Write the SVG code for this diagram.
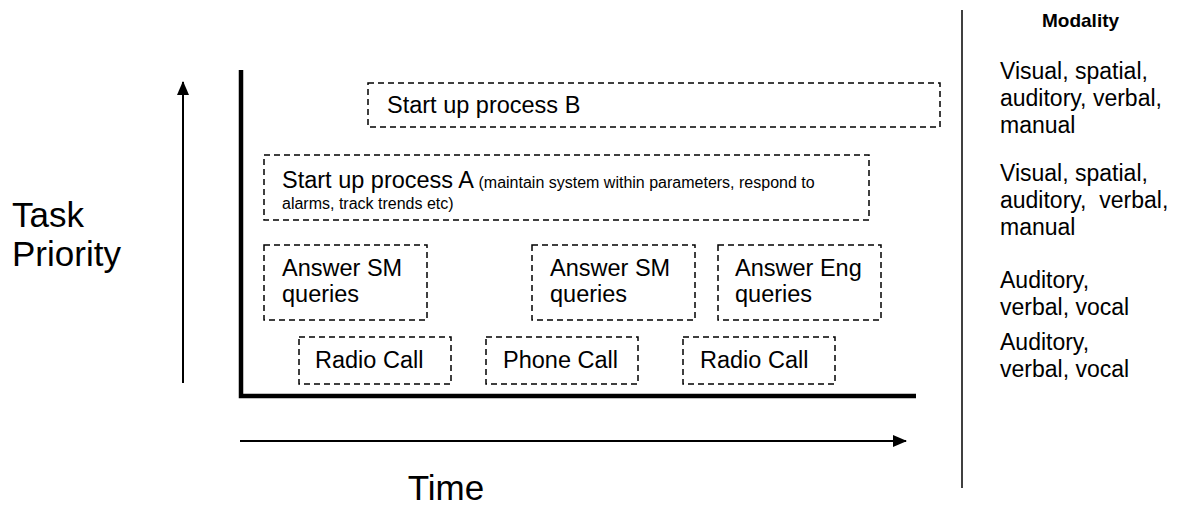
<svg xmlns="http://www.w3.org/2000/svg" width="1183" height="509" viewBox="0 0 1183 509">
<style>
text{font-family:"Liberation Sans",Arial,sans-serif;fill:#000}
.box{fill:none;stroke:#000;stroke-width:1.5;stroke-dasharray:6 4}
.lbl{font-size:23.5px}
.sm{font-size:16px}
.mod{font-size:23px}
.big{font-size:35px}
</style>
<defs>
<marker id="ah2" markerWidth="14" markerHeight="12" refX="13" refY="6" orient="auto" markerUnits="userSpaceOnUse">
<path d="M0,0 L14,6 L0,12 z" fill="#000"/>
</marker>
</defs>
<g id="connectors">
<line x1="183" y1="383" x2="183" y2="82" stroke="#000" stroke-width="2" marker-end="url(#ah2)"/>
<line x1="240" y1="441" x2="906" y2="441" stroke="#000" stroke-width="2" marker-end="url(#ah2)"/>
<polyline points="241,70 241,396 916,396" fill="none" stroke="#000" stroke-width="4.5"/>
<line x1="962" y1="10" x2="962" y2="488" stroke="#000" stroke-width="1.5"/>
</g>
<g id="axis-labels">
<text class="big" x="12" y="227">Task</text>
<text class="big" x="12" y="266">Priority</text>
<text class="big" x="446" y="500" text-anchor="middle">Time</text>
</g>
<g id="boxB">
<rect class="box" x="368" y="83" width="572" height="44"/>
<text class="lbl" x="387" y="113">Start up process B</text>
</g>
<g id="boxA">
<rect class="box" x="264" y="155" width="605" height="65"/>
<text x="282" y="188"><tspan class="lbl">Start up process A</tspan><tspan class="sm"> (maintain system within parameters, respond to</tspan></text>
<text class="sm" x="282" y="209">alarms, track trends etc)</text>
</g>
<g id="sm1">
<rect class="box" x="264" y="245" width="163" height="75"/>
<text class="lbl" x="282" y="276">Answer SM</text>
<text class="lbl" x="282" y="302">queries</text>
</g>
<g id="sm2">
<rect class="box" x="532" y="245" width="163" height="75"/>
<text class="lbl" x="550" y="276">Answer SM</text>
<text class="lbl" x="550" y="302">queries</text>
</g>
<g id="eng">
<rect class="box" x="718" y="245" width="163" height="75"/>
<text class="lbl" x="735" y="276">Answer Eng</text>
<text class="lbl" x="735" y="302">queries</text>
</g>
<g id="radio1">
<rect class="box" x="299" y="337" width="152" height="47"/>
<text class="lbl" x="315" y="368">Radio Call</text>
</g>
<g id="phone">
<rect class="box" x="486" y="337" width="152" height="47"/>
<text class="lbl" x="503" y="368">Phone Call</text>
</g>
<g id="radio2">
<rect class="box" x="683" y="337" width="152" height="47"/>
<text class="lbl" x="700" y="368">Radio Call</text>
</g>
<g id="modality">
<text x="1042" y="27" font-size="19" font-weight="bold">Modality</text>
<text class="mod" x="1000" y="79">Visual, spatial,</text>
<text class="mod" x="1000" y="106">auditory, verbal,</text>
<text class="mod" x="1000" y="133">manual</text>
<text class="mod" x="1000" y="181">Visual, spatial,</text>
<text class="mod" x="1000" y="208" xml:space="preserve">auditory,  verbal,</text>
<text class="mod" x="1000" y="235">manual</text>
<text class="mod" x="1000" y="288">Auditory,</text>
<text class="mod" x="1000" y="315">verbal, vocal</text>
<text class="mod" x="1000" y="350">Auditory,</text>
<text class="mod" x="1000" y="377">verbal, vocal</text>
</g>
</svg>
